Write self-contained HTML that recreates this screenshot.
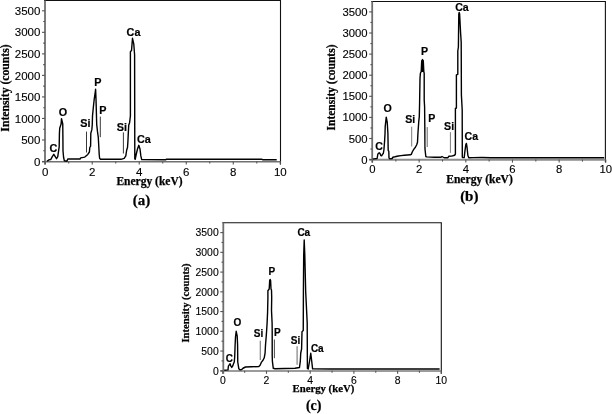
<!DOCTYPE html>
<html><head><meta charset="utf-8"><style>
html,body{margin:0;padding:0;background:#fff;}
svg{display:block;}
.t{font-family:"Liberation Sans",Arial,sans-serif;fill:#000;stroke:#000;stroke-width:0.12px;}
.b{font-family:"Liberation Sans",Arial,sans-serif;font-weight:bold;fill:#000;stroke:#000;stroke-width:0.2px;}
.s{font-family:"Liberation Serif","Times New Roman",serif;font-weight:bold;fill:#000;stroke:#000;stroke-width:0.25px;}
</style></head><body>
<svg width="612" height="414" viewBox="0 0 612 414">
<rect width="612" height="414" fill="#fff"/>
<line x1="44" y1="0.5" x2="281" y2="0.5" stroke="#111" stroke-width="1.1"/>
<line x1="280.5" y1="0.5" x2="280.5" y2="164.5" stroke="#111" stroke-width="1.1"/>
<line x1="45" y1="0.5" x2="45" y2="164.5" stroke="#6e6e6e" stroke-width="1.8"/>
<line x1="42" y1="161.7" x2="280.5" y2="161.7" stroke="#707070" stroke-width="1.5"/>
<line x1="45.2" y1="161.5" x2="45.2" y2="164.5" stroke="#555" stroke-width="1.1"/>
<line x1="68.71" y1="161.5" x2="68.71" y2="163.5" stroke="#555" stroke-width="1.1"/>
<line x1="92.22" y1="161.5" x2="92.22" y2="164.5" stroke="#555" stroke-width="1.1"/>
<line x1="115.73" y1="161.5" x2="115.73" y2="163.5" stroke="#555" stroke-width="1.1"/>
<line x1="139.24" y1="161.5" x2="139.24" y2="164.5" stroke="#555" stroke-width="1.1"/>
<line x1="162.75" y1="161.5" x2="162.75" y2="163.5" stroke="#555" stroke-width="1.1"/>
<line x1="186.26" y1="161.5" x2="186.26" y2="164.5" stroke="#555" stroke-width="1.1"/>
<line x1="209.77" y1="161.5" x2="209.77" y2="163.5" stroke="#555" stroke-width="1.1"/>
<line x1="233.28" y1="161.5" x2="233.28" y2="164.5" stroke="#555" stroke-width="1.1"/>
<line x1="256.79" y1="161.5" x2="256.79" y2="163.5" stroke="#555" stroke-width="1.1"/>
<line x1="280.3" y1="161.5" x2="280.3" y2="164.5" stroke="#555" stroke-width="1.1"/>
<line x1="42" y1="161.5" x2="45" y2="161.5" stroke="#555" stroke-width="1.1"/>
<line x1="43.2" y1="150.74" x2="45" y2="150.74" stroke="#555" stroke-width="1.1"/>
<line x1="42" y1="139.97" x2="45" y2="139.97" stroke="#555" stroke-width="1.1"/>
<line x1="43.2" y1="129.21" x2="45" y2="129.21" stroke="#555" stroke-width="1.1"/>
<line x1="42" y1="118.44" x2="45" y2="118.44" stroke="#555" stroke-width="1.1"/>
<line x1="43.2" y1="107.68" x2="45" y2="107.68" stroke="#555" stroke-width="1.1"/>
<line x1="42" y1="96.91" x2="45" y2="96.91" stroke="#555" stroke-width="1.1"/>
<line x1="43.2" y1="86.15" x2="45" y2="86.15" stroke="#555" stroke-width="1.1"/>
<line x1="42" y1="75.39" x2="45" y2="75.39" stroke="#555" stroke-width="1.1"/>
<line x1="43.2" y1="64.62" x2="45" y2="64.62" stroke="#555" stroke-width="1.1"/>
<line x1="42" y1="53.86" x2="45" y2="53.86" stroke="#555" stroke-width="1.1"/>
<line x1="43.2" y1="43.09" x2="45" y2="43.09" stroke="#555" stroke-width="1.1"/>
<line x1="42" y1="32.33" x2="45" y2="32.33" stroke="#555" stroke-width="1.1"/>
<line x1="43.2" y1="21.56" x2="45" y2="21.56" stroke="#555" stroke-width="1.1"/>
<line x1="42" y1="10.8" x2="45" y2="10.8" stroke="#555" stroke-width="1.1"/>
<text x="45.2" y="175.73" font-size="11.5" text-anchor="middle" class="t">0</text>
<text x="92.22" y="175.73" font-size="11.5" text-anchor="middle" class="t">2</text>
<text x="139.24" y="175.73" font-size="11.5" text-anchor="middle" class="t">4</text>
<text x="186.26" y="175.73" font-size="11.5" text-anchor="middle" class="t">6</text>
<text x="233.28" y="175.73" font-size="11.5" text-anchor="middle" class="t">8</text>
<text x="280.3" y="175.73" font-size="11.5" text-anchor="middle" class="t">10</text>
<text x="40.4" y="165.62" font-size="11.5" text-anchor="end" class="t">0</text>
<text x="40.4" y="144.09" font-size="11.5" text-anchor="end" class="t">500</text>
<text x="40.4" y="122.56" font-size="11.5" text-anchor="end" class="t">1000</text>
<text x="40.4" y="101.03" font-size="11.5" text-anchor="end" class="t">1500</text>
<text x="40.4" y="79.5" font-size="11.5" text-anchor="end" class="t">2000</text>
<text x="40.4" y="57.97" font-size="11.5" text-anchor="end" class="t">2500</text>
<text x="40.4" y="36.45" font-size="11.5" text-anchor="end" class="t">3000</text>
<text x="40.4" y="14.92" font-size="11.5" text-anchor="end" class="t">3500</text>
<line x1="371.2" y1="1.5" x2="605.9" y2="1.5" stroke="#111" stroke-width="1.1"/>
<line x1="605.4" y1="1.5" x2="605.4" y2="162.6" stroke="#111" stroke-width="1.1"/>
<line x1="372.2" y1="1.5" x2="372.2" y2="162.6" stroke="#6e6e6e" stroke-width="1.8"/>
<line x1="369.2" y1="159.8" x2="605.4" y2="159.8" stroke="#8c8c8c" stroke-width="1.9"/>
<line x1="372.5" y1="159.6" x2="372.5" y2="162.6" stroke="#555" stroke-width="1.1"/>
<line x1="395.83" y1="159.6" x2="395.83" y2="161.6" stroke="#555" stroke-width="1.1"/>
<line x1="419.16" y1="159.6" x2="419.16" y2="162.6" stroke="#555" stroke-width="1.1"/>
<line x1="442.49" y1="159.6" x2="442.49" y2="161.6" stroke="#555" stroke-width="1.1"/>
<line x1="465.82" y1="159.6" x2="465.82" y2="162.6" stroke="#555" stroke-width="1.1"/>
<line x1="489.15" y1="159.6" x2="489.15" y2="161.6" stroke="#555" stroke-width="1.1"/>
<line x1="512.48" y1="159.6" x2="512.48" y2="162.6" stroke="#555" stroke-width="1.1"/>
<line x1="535.81" y1="159.6" x2="535.81" y2="161.6" stroke="#555" stroke-width="1.1"/>
<line x1="559.14" y1="159.6" x2="559.14" y2="162.6" stroke="#555" stroke-width="1.1"/>
<line x1="582.47" y1="159.6" x2="582.47" y2="161.6" stroke="#555" stroke-width="1.1"/>
<line x1="605.8" y1="159.6" x2="605.8" y2="162.6" stroke="#555" stroke-width="1.1"/>
<line x1="369.2" y1="159.6" x2="372.2" y2="159.6" stroke="#555" stroke-width="1.1"/>
<line x1="370.4" y1="149.05" x2="372.2" y2="149.05" stroke="#555" stroke-width="1.1"/>
<line x1="369.2" y1="138.5" x2="372.2" y2="138.5" stroke="#555" stroke-width="1.1"/>
<line x1="370.4" y1="127.95" x2="372.2" y2="127.95" stroke="#555" stroke-width="1.1"/>
<line x1="369.2" y1="117.4" x2="372.2" y2="117.4" stroke="#555" stroke-width="1.1"/>
<line x1="370.4" y1="106.85" x2="372.2" y2="106.85" stroke="#555" stroke-width="1.1"/>
<line x1="369.2" y1="96.3" x2="372.2" y2="96.3" stroke="#555" stroke-width="1.1"/>
<line x1="370.4" y1="85.75" x2="372.2" y2="85.75" stroke="#555" stroke-width="1.1"/>
<line x1="369.2" y1="75.2" x2="372.2" y2="75.2" stroke="#555" stroke-width="1.1"/>
<line x1="370.4" y1="64.65" x2="372.2" y2="64.65" stroke="#555" stroke-width="1.1"/>
<line x1="369.2" y1="54.1" x2="372.2" y2="54.1" stroke="#555" stroke-width="1.1"/>
<line x1="370.4" y1="43.55" x2="372.2" y2="43.55" stroke="#555" stroke-width="1.1"/>
<line x1="369.2" y1="33" x2="372.2" y2="33" stroke="#555" stroke-width="1.1"/>
<line x1="370.4" y1="22.45" x2="372.2" y2="22.45" stroke="#555" stroke-width="1.1"/>
<line x1="369.2" y1="11.9" x2="372.2" y2="11.9" stroke="#555" stroke-width="1.1"/>
<text x="372.5" y="172.99" font-size="11.3" text-anchor="middle" class="t">0</text>
<text x="419.16" y="172.99" font-size="11.3" text-anchor="middle" class="t">2</text>
<text x="465.82" y="172.99" font-size="11.3" text-anchor="middle" class="t">4</text>
<text x="512.48" y="172.99" font-size="11.3" text-anchor="middle" class="t">6</text>
<text x="559.14" y="172.99" font-size="11.3" text-anchor="middle" class="t">8</text>
<text x="605.8" y="172.99" font-size="11.3" text-anchor="middle" class="t">10</text>
<text x="367.6" y="163.65" font-size="11.3" text-anchor="end" class="t">0</text>
<text x="367.6" y="142.55" font-size="11.3" text-anchor="end" class="t">500</text>
<text x="367.6" y="121.45" font-size="11.3" text-anchor="end" class="t">1000</text>
<text x="367.6" y="100.35" font-size="11.3" text-anchor="end" class="t">1500</text>
<text x="367.6" y="79.25" font-size="11.3" text-anchor="end" class="t">2000</text>
<text x="367.6" y="58.15" font-size="11.3" text-anchor="end" class="t">2500</text>
<text x="367.6" y="37.05" font-size="11.3" text-anchor="end" class="t">3000</text>
<text x="367.6" y="15.95" font-size="11.3" text-anchor="end" class="t">3500</text>
<line x1="222.3" y1="222.7" x2="441.8" y2="222.7" stroke="#111" stroke-width="1.1"/>
<line x1="441.3" y1="222.7" x2="441.3" y2="373.8" stroke="#111" stroke-width="1.1"/>
<line x1="223.3" y1="222.7" x2="223.3" y2="373.8" stroke="#6e6e6e" stroke-width="1.8"/>
<line x1="220.3" y1="371" x2="441.3" y2="371" stroke="#7a7a7a" stroke-width="1.6"/>
<line x1="222.8" y1="370.8" x2="222.8" y2="373.8" stroke="#555" stroke-width="1.1"/>
<line x1="244.65" y1="370.8" x2="244.65" y2="372.8" stroke="#555" stroke-width="1.1"/>
<line x1="266.5" y1="370.8" x2="266.5" y2="373.8" stroke="#555" stroke-width="1.1"/>
<line x1="288.35" y1="370.8" x2="288.35" y2="372.8" stroke="#555" stroke-width="1.1"/>
<line x1="310.2" y1="370.8" x2="310.2" y2="373.8" stroke="#555" stroke-width="1.1"/>
<line x1="332.05" y1="370.8" x2="332.05" y2="372.8" stroke="#555" stroke-width="1.1"/>
<line x1="353.9" y1="370.8" x2="353.9" y2="373.8" stroke="#555" stroke-width="1.1"/>
<line x1="375.75" y1="370.8" x2="375.75" y2="372.8" stroke="#555" stroke-width="1.1"/>
<line x1="397.6" y1="370.8" x2="397.6" y2="373.8" stroke="#555" stroke-width="1.1"/>
<line x1="419.45" y1="370.8" x2="419.45" y2="372.8" stroke="#555" stroke-width="1.1"/>
<line x1="441.3" y1="370.8" x2="441.3" y2="373.8" stroke="#555" stroke-width="1.1"/>
<line x1="220.3" y1="370.8" x2="223.3" y2="370.8" stroke="#555" stroke-width="1.1"/>
<line x1="221.5" y1="360.93" x2="223.3" y2="360.93" stroke="#555" stroke-width="1.1"/>
<line x1="220.3" y1="351.06" x2="223.3" y2="351.06" stroke="#555" stroke-width="1.1"/>
<line x1="221.5" y1="341.19" x2="223.3" y2="341.19" stroke="#555" stroke-width="1.1"/>
<line x1="220.3" y1="331.31" x2="223.3" y2="331.31" stroke="#555" stroke-width="1.1"/>
<line x1="221.5" y1="321.44" x2="223.3" y2="321.44" stroke="#555" stroke-width="1.1"/>
<line x1="220.3" y1="311.57" x2="223.3" y2="311.57" stroke="#555" stroke-width="1.1"/>
<line x1="221.5" y1="301.7" x2="223.3" y2="301.7" stroke="#555" stroke-width="1.1"/>
<line x1="220.3" y1="291.83" x2="223.3" y2="291.83" stroke="#555" stroke-width="1.1"/>
<line x1="221.5" y1="281.96" x2="223.3" y2="281.96" stroke="#555" stroke-width="1.1"/>
<line x1="220.3" y1="272.09" x2="223.3" y2="272.09" stroke="#555" stroke-width="1.1"/>
<line x1="221.5" y1="262.21" x2="223.3" y2="262.21" stroke="#555" stroke-width="1.1"/>
<line x1="220.3" y1="252.34" x2="223.3" y2="252.34" stroke="#555" stroke-width="1.1"/>
<line x1="221.5" y1="242.47" x2="223.3" y2="242.47" stroke="#555" stroke-width="1.1"/>
<line x1="220.3" y1="232.6" x2="223.3" y2="232.6" stroke="#555" stroke-width="1.1"/>
<text x="222.8" y="384.25" font-size="10.4" text-anchor="middle" class="t">0</text>
<text x="266.5" y="384.25" font-size="10.4" text-anchor="middle" class="t">2</text>
<text x="310.2" y="384.25" font-size="10.4" text-anchor="middle" class="t">4</text>
<text x="353.9" y="384.25" font-size="10.4" text-anchor="middle" class="t">6</text>
<text x="397.6" y="384.25" font-size="10.4" text-anchor="middle" class="t">8</text>
<text x="441.3" y="384.25" font-size="10.4" text-anchor="middle" class="t">10</text>
<text x="218.7" y="374.52" font-size="10.4" text-anchor="end" class="t">0</text>
<text x="218.7" y="354.78" font-size="10.4" text-anchor="end" class="t">500</text>
<text x="218.7" y="335.04" font-size="10.4" text-anchor="end" class="t">1000</text>
<text x="218.7" y="315.29" font-size="10.4" text-anchor="end" class="t">1500</text>
<text x="218.7" y="295.55" font-size="10.4" text-anchor="end" class="t">2000</text>
<text x="218.7" y="275.81" font-size="10.4" text-anchor="end" class="t">2500</text>
<text x="218.7" y="256.07" font-size="10.4" text-anchor="end" class="t">3000</text>
<text x="218.7" y="236.32" font-size="10.4" text-anchor="end" class="t">3500</text>
<polyline points="46.9,161.25 49,159.8 50.7,159.6 52.3,156.7 53.8,154.3 55.25,156.7 56.5,158.75 57.75,156.7 58.6,150.8 59.2,146.7 59.4,134.2 59.7,128.2 61.1,124 61.5,118.6 62.75,124 62.9,137 63,150.8 63.6,157.5 64.4,160.8 66.9,161.25 67.75,159 80,159 80.7,157.9 84.8,157.1 87.8,154.4 89.4,152 89.8,147.5 90.6,146.2 90.8,133.2 91.8,129.9 92.25,125 92.5,116 93.3,107.7 94.2,99.3 95.4,91 95.6,89.2 96,99 96.25,107.7 96.7,124.3 97.5,131.7 98.3,137.5 98.75,145.8 99.2,154.2 99.6,158.3 100.5,159.3 121,159.3 124.2,158.3 125.8,155.8 126.7,150 127.5,147.5 127.9,141.7 128.3,133.3 128.75,125 129.6,122.7 130.4,116 130.4,51.7 131.5,50.6 132.5,38.3 133.8,44.2 134.6,55 134.8,159 135.2,159.3 136.3,154 137.5,149 138.8,145.3 140,149 140.8,155.7 141.7,159.6 165.8,159.8 166.3,159.3 262,159.3 263,159.8 276.7,159.8" fill="none" stroke="#000" stroke-width="1.4" stroke-linejoin="round"/>
<line x1="86.5" y1="131.6" x2="86.5" y2="152.5" stroke="#222" stroke-width="0.9"/>
<line x1="100.3" y1="116.6" x2="100.3" y2="137.2" stroke="#222" stroke-width="0.9"/>
<line x1="123.4" y1="132.4" x2="123.4" y2="153.5" stroke="#222" stroke-width="0.9"/>
<text x="49.6" y="151.8" font-size="10.8" class="b">C</text>
<text x="58.8" y="116" font-size="10.8" class="b">O</text>
<text x="80.2" y="127.3" font-size="10.8" class="b">Si</text>
<text x="94.3" y="85.5" font-size="10.8" class="b">P</text>
<text x="99.3" y="114" font-size="10.8" class="b">P</text>
<text x="116.7" y="131.1" font-size="10.8" class="b">Si</text>
<text x="126.6" y="36.2" font-size="10.8" class="b">Ca</text>
<text x="137" y="142.5" font-size="10.8" class="b">Ca</text>
<text transform="translate(9.1,88) rotate(-90)" font-size="11.7" text-anchor="middle" class="s">Intensity (counts)</text>
<text x="149.5" y="185.4" font-size="11.5" text-anchor="middle" class="s">Energy (keV)</text>
<text x="141.5" y="205" font-size="15" text-anchor="middle" class="s">(a)</text>
<polyline points="372.7,159.2 373.75,158.9 377.1,158.5 377.9,153.9 379.2,152.7 380,153.5 380.8,155.6 381.6,155.8 382.5,154.3 383.3,153.5 383.9,150 384.6,141 385,134 385.2,126.7 386.25,117.1 387.25,122.5 387.9,133.3 388.2,150.6 388.8,151.2 389,158 390,158.9 392.1,158.5 392.9,157.25 395,156.8 398.3,156 401,155.6 404.3,155.25 410.4,154.8 411.25,154.4 412.5,151.5 413.75,149.4 415.4,147.3 416.7,144.8 417.5,142.3 417.9,134 418.75,121.7 419.3,116.7 419.6,103.3 420,78.3 420.4,73.3 421.2,71.5 421.7,61 422.5,59.6 423.3,61 423.8,71.5 424.2,73.3 424.2,100 424.6,106.7 424.8,125 425,149 425.8,156.5 426.7,156.9 434.2,157.2 440.8,157.3 442,156.5 444.2,157.75 447.9,157.75 448.75,156.3 451.7,156.1 454.6,155.25 455.4,154 455.4,108.5 456.4,108 456.4,74.8 457.8,74.3 457.8,51 458.4,47 458.5,38 458.8,14 459.2,12.5 459.6,14 460.6,33 461.2,42 461.4,95 462.2,110 462.3,157 462.5,157.6 464.2,157.6 464.8,152.2 465.8,144.7 466.4,143.4 467,147.2 467.9,155.5 468.75,157.7 473.3,157.6 481.7,157.5 491,157.8 520,157.7 560,157.8 590,157.7 604.2,157.8" fill="none" stroke="#000" stroke-width="1.4" stroke-linejoin="round"/>
<polygon points="421.2,72 421.6,60.2 422.5,59.4 423.5,60.2 423.9,72" fill="#000"/>
<line x1="411.7" y1="126.7" x2="411.7" y2="146.5" stroke="#7a7a7a" stroke-width="1.0"/>
<line x1="425.7" y1="127.1" x2="425.7" y2="147" stroke="#7a7a7a" stroke-width="1.0"/>
<line x1="427.3" y1="127.1" x2="427.3" y2="147" stroke="#7a7a7a" stroke-width="1.0"/>
<line x1="450.4" y1="132.2" x2="450.4" y2="152.9" stroke="#7a7a7a" stroke-width="1.0"/>
<text x="375.3" y="149.8" font-size="10.6" class="b">C</text>
<text x="383.4" y="111.8" font-size="10.6" class="b">O</text>
<text x="405.3" y="123.3" font-size="10.6" class="b">Si</text>
<text x="421.1" y="55" font-size="10.6" class="b">P</text>
<text x="428.3" y="122.1" font-size="10.6" class="b">P</text>
<text x="444.1" y="130" font-size="10.6" class="b">Si</text>
<text x="455.2" y="11.1" font-size="10.6" class="b">Ca</text>
<text x="464.5" y="139.6" font-size="10.6" class="b">Ca</text>
<text transform="translate(334.8,87.5) rotate(-90)" font-size="11.5" text-anchor="middle" class="s">Intensity (counts)</text>
<text x="479.5" y="182.7" font-size="11.6" text-anchor="middle" class="s">Energy (keV)</text>
<text x="469.3" y="201.2" font-size="15" text-anchor="middle" class="s">(b)</text>
<polyline points="224.25,370.3 228,369.9 228.4,366.2 229.25,364.9 230.1,363.8 230.9,366.2 231.75,367.4 232.6,366.2 233.4,364.1 234.25,362 234.7,357 235.1,345.3 235.5,337 236.2,331.3 237.2,336.2 237.6,345.3 237.75,362 238.8,368.7 240.1,369.9 241.75,369.5 243,368.25 245.5,367 251.3,366.75 258.8,366.6 260.1,365.3 261.3,362.4 263,360.3 264.25,357.8 265.1,352.8 265.5,345.3 266.3,335.3 266.75,328.7 267.1,323 267.6,312 267.9,298 267.9,290.7 269.2,289 269.7,280.5 270.1,279.4 270.6,280.5 271,289 271.5,290 271.7,297.3 271.5,310.5 272.1,323 272.2,331 272.2,355.5 272.4,361.3 273.3,368.3 275,368.7 295,368.3 299.5,367.5 300.3,361.3 300.75,353 301.6,348.8 302,331.75 303.25,330.5 303.4,292.8 303.7,255 304.2,240 304.8,255 305.7,292 307.2,323 307.4,368.4 308.2,369 309.5,361.5 310.75,353.3 311.75,361.5 312.6,368.8 330,369 380,369 420,369 439.6,369" fill="none" stroke="#000" stroke-width="1.4" stroke-linejoin="round"/>
<line x1="260.3" y1="340.8" x2="260.3" y2="360" stroke="#808080" stroke-width="1.2"/>
<line x1="274.4" y1="339.5" x2="274.4" y2="358.2" stroke="#333" stroke-width="0.9"/>
<line x1="297.1" y1="346.3" x2="297.1" y2="364.8" stroke="#808080" stroke-width="1.2"/>
<text x="225.7" y="361.8" font-size="10" class="b">C</text>
<text x="233.4" y="326" font-size="10" class="b">O</text>
<text x="253.8" y="336.8" font-size="10" class="b">Si</text>
<text x="268.4" y="275.3" font-size="10" class="b">P</text>
<text x="274" y="336.1" font-size="10" class="b">P</text>
<text x="290.8" y="343.6" font-size="10" class="b">Si</text>
<text x="297.4" y="236.3" font-size="10" class="b">Ca</text>
<text x="310.9" y="352" font-size="10" class="b">Ca</text>
<text transform="translate(188.5,303) rotate(-90)" font-size="10.6" text-anchor="middle" class="s">Intensity (counts)</text>
<text x="323.4" y="392.4" font-size="10.75" text-anchor="middle" class="s">Energy (keV)</text>
<text x="313.7" y="410.3" font-size="14" text-anchor="middle" class="s">(c)</text>
</svg>
</body></html>
